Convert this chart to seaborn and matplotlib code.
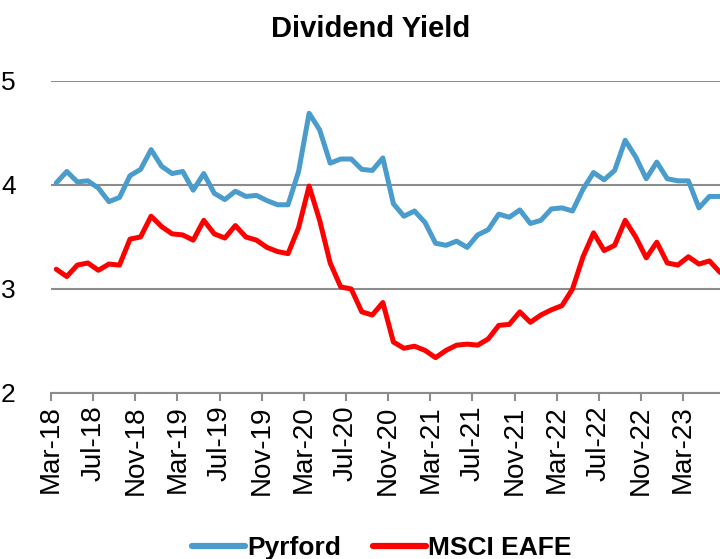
import numpy as np
import pandas as pd
import matplotlib
matplotlib.use("Agg")
from matplotlib import pyplot as plt
import seaborn as sns

# monthly dividend yield, Mar-18 .. Jun-23
pyrford = [4.02, 4.13, 4.03, 4.04, 3.97, 3.84, 3.88, 4.09, 4.15, 4.34,
           4.18, 4.11, 4.13, 3.95, 4.11, 3.92, 3.86, 3.94, 3.89, 3.90,
           3.85, 3.81, 3.81, 4.13, 4.69, 4.53, 4.21, 4.25, 4.25, 4.15,
           4.14, 4.26, 3.82, 3.70, 3.75, 3.64, 3.44, 3.42, 3.46, 3.40,
           3.52, 3.57, 3.72, 3.69, 3.76, 3.63, 3.66, 3.77, 3.78, 3.75,
           3.96, 4.12, 4.05, 4.14, 4.43, 4.27, 4.06, 4.22, 4.06, 4.04,
           4.04, 3.78, 3.89, 3.89]
msci_eafe = [3.19, 3.12, 3.23, 3.25, 3.18, 3.24, 3.23, 3.48, 3.50, 3.70,
             3.60, 3.53, 3.52, 3.47, 3.66, 3.53, 3.49, 3.61, 3.50, 3.47,
             3.40, 3.36, 3.34, 3.59, 3.99, 3.66, 3.25, 3.02, 3.00, 2.78,
             2.75, 2.87, 2.49, 2.43, 2.45, 2.41, 2.34, 2.41, 2.46, 2.47,
             2.46, 2.52, 2.65, 2.66, 2.78, 2.68, 2.75, 2.80, 2.84, 3.00,
             3.31, 3.54, 3.37, 3.42, 3.66, 3.50, 3.30, 3.45, 3.25, 3.23,
             3.31, 3.24, 3.27, 3.16]
tick_labels = ['Mar-18', 'Jul-18', 'Nov-18', 'Mar-19', 'Jul-19', 'Nov-19',
               'Mar-20', 'Jul-20', 'Nov-20', 'Mar-21', 'Jul-21', 'Nov-21',
               'Mar-22', 'Jul-22', 'Nov-22', 'Mar-23']
y_ticks = [2, 3, 4, 5]

month = np.arange(len(pyrford))
df = pd.DataFrame({'Month': np.concatenate([month, month]),
                   'Yield': pyrford + msci_eafe,
                   'Series': ['Pyrford'] * len(pyrford) + ['MSCI EAFE'] * len(msci_eafe)})

sns.set_style('white')
plt.rcParams['font.family'] = ['Liberation Sans', 'DejaVu Sans']
plt.rcParams['text.color'] = 'black'
plt.rcParams['xtick.color'] = 'black'
plt.rcParams['ytick.color'] = 'black'

fig = plt.figure(figsize=(7.2, 5.59), dpi=100)
ax = fig.add_axes([51 / 720, 1 - 393 / 559, 1 - 51 / 720, (393 - 81) / 559])

palette = {'Pyrford': '#4a9ccc', 'MSCI EAFE': '#ff0000'}
sns.lineplot(data=df, x='Month', y='Yield', hue='Series', palette=palette,
             linewidth=3.6, ax=ax, legend=False)

ax.set_ylim(2, 5)
ax.set_xlim(-0.5, len(pyrford) - 1)
ax.set_yticks(y_ticks)
ax.set_yticklabels([str(v) for v in y_ticks], fontsize=19)
ax.set_xticks(np.arange(len(tick_labels)) * 4 - 0.5)
ax.set_xticklabels(tick_labels, rotation=90, fontsize=20)
ax.set_xlabel('')
ax.set_ylabel('')

ax.grid(axis='y', color='#8c8c8c', linewidth=1.5)
ax.set_axisbelow(True)
for side in ['top', 'right', 'left']:
    ax.spines[side].set_visible(False)
ax.spines['bottom'].set_color('#8c8c8c')
ax.spines['bottom'].set_linewidth(1.5)
ax.tick_params(axis='x', bottom=True, direction='out', length=6, width=1.5,
               color='#8c8c8c', labelcolor='black', pad=3)
ax.tick_params(axis='y', left=False, labelcolor='black', pad=22)

fig.text(371 / 720, 1 - 29 / 559, 'Dividend Yield', ha='center', va='center',
         fontsize=21, fontweight='bold', color='black')

handles = [plt.Line2D([], [], color=palette[s], linewidth=4.5) for s in palette]
fig.legend(handles, list(palette), loc='center', bbox_to_anchor=(382 / 720, 1 - 548 / 559),
           ncol=2, frameon=False, handlelength=2.0, handletextpad=0.1,
           columnspacing=1.2, labelcolor='black', prop={'size': 19, 'weight': 'bold'})

fig.savefig('out.png', dpi=100)
